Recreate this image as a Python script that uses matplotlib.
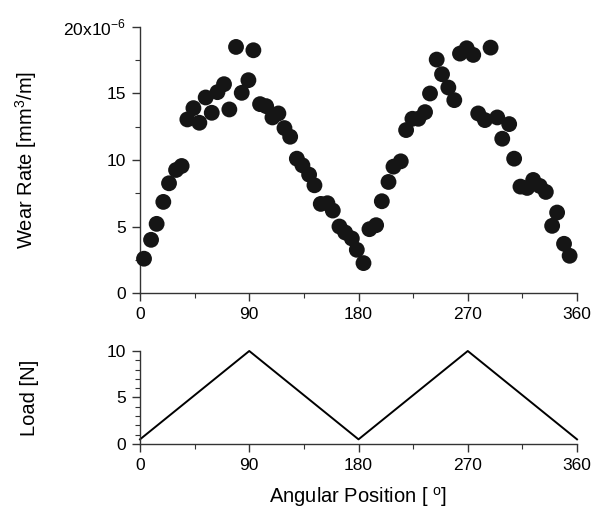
import numpy as np
import matplotlib
matplotlib.use("Agg")
import matplotlib.pyplot as plt
from matplotlib.ticker import MultipleLocator

plt.rcParams["font.family"] = ["Liberation Sans", "DejaVu Sans"]

# Wear rate vs angular position (values in 1e-6 mm^3/m)
angle = [3.3, 9.1, 13.7, 19.2, 23.9, 29.7, 34.3, 39.0, 44.0, 48.9,
         54.1, 59.1, 63.8, 69.2, 73.6, 79.1, 83.8, 89.3, 93.4, 98.9,
         103.9, 109.1, 114.0, 119.0, 123.7, 129.2, 133.8, 139.3, 143.7, 148.9,
         154.4, 158.8, 164.3, 169.0, 174.5, 178.6, 184.1, 189.0, 194.5, 199.2,
         204.7, 208.8, 214.8, 219.2, 224.4, 229.3, 234.8, 238.9, 244.4, 248.8,
         254.0, 258.9, 263.6, 269.1, 274.5, 278.6, 284.1, 288.8, 294.3, 298.4,
         304.1, 308.2, 313.4, 318.9, 323.9, 329.3, 334.3, 339.5, 343.6, 349.3,
         353.9]
wear = [2.58, 4.0, 5.2, 6.85, 8.25, 9.25, 9.55, 13.05, 13.9, 12.8,
        14.7, 13.55, 15.1, 15.7, 13.8, 18.5, 15.05, 16.0, 18.25, 14.2,
        14.05, 13.2, 13.5, 12.4, 11.75, 10.1, 9.6, 8.9, 8.1, 6.7,
        6.75, 6.2, 5.0, 4.55, 4.1, 3.25, 2.25, 4.8, 5.1, 6.9,
        8.35, 9.5, 9.9, 12.25, 13.1, 13.1, 13.6, 15.0, 17.55, 16.45,
        15.45, 14.5, 18.0, 18.4, 17.9, 13.5, 13.0, 18.45, 13.2, 11.6,
        12.7, 10.1, 8.0, 7.9, 8.5, 8.05, 7.6, 5.05, 6.05, 3.7,
        2.8]

# Applied load profile
load_angle = [0, 90, 180, 270, 360]
load = [0.5, 10, 0.5, 10, 0.5]

fig = plt.figure(figsize=(5.92, 5.13), dpi=100)
ax1 = fig.add_axes([0.2365, 0.4288, 0.7382, 0.5186])
ax2 = fig.add_axes([0.2365, 0.1345, 0.7382, 0.1813])

spine_color = "#333333"

# Wear rate
ax1.scatter(angle, wear, s=130, color="#151515", edgecolors="none", zorder=3,
            clip_on=False)
ax1.set_xlim(0, 360)
ax1.set_ylim(0, 20)
ax1.set_xticks([0, 90, 180, 270, 360])
ax1.set_yticks([0, 5, 10, 15, 20])
ax1.set_yticklabels(["0", "5", "10", "15", "20x10$^{\\mathregular{-6}}$"])
ax1.xaxis.set_minor_locator(MultipleLocator(45))
ax1.yaxis.set_minor_locator(MultipleLocator(2.5))
ax1.set_ylabel("Wear Rate [mm$^{\\mathregular{3}}$/m]", fontsize=14.5)

# Load
ax2.plot(load_angle, load, color="black", lw=1.4, clip_on=False)
ax2.set_xlim(0, 360)
ax2.set_ylim(0, 10)
ax2.set_xticks([0, 90, 180, 270, 360])
ax2.set_yticks([0, 5, 10])
ax2.xaxis.set_minor_locator(MultipleLocator(45))
ax2.yaxis.set_minor_locator(MultipleLocator(1))
ax2.set_ylabel("Load [N]", fontsize=14.5)
ax2.set_xlabel("Angular Position [ $^{\\mathregular{o}}$]", fontsize=14.5, labelpad=9)

for ax in (ax1, ax2):
    ax.spines["top"].set_visible(False)
    ax.spines["right"].set_visible(False)
    for side in ("left", "bottom"):
        ax.spines[side].set_color(spine_color)
        ax.spines[side].set_linewidth(1.0)
    ax.tick_params(which="major", length=6, width=1.0, color=spine_color,
                   labelsize=12.5, pad=4)
    ax.tick_params(which="minor", length=3.5, width=0.8, color=spine_color)
    ax.yaxis.set_label_coords(-0.23, 0.5)

plt.savefig("out.png", dpi=100)
